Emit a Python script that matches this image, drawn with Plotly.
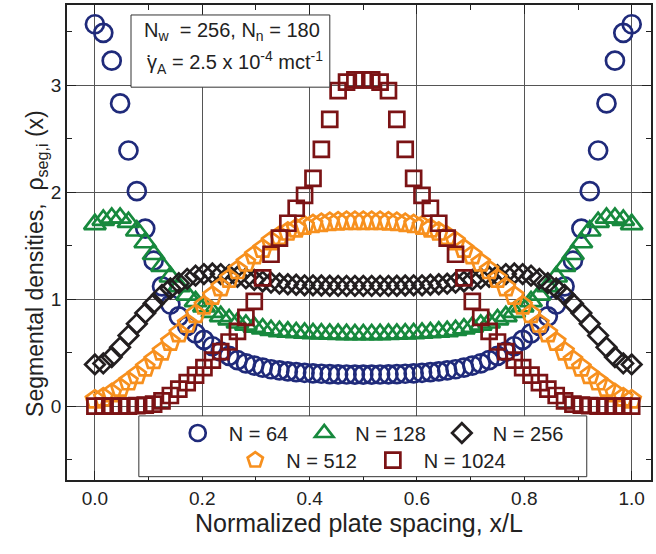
import plotly.graph_objects as go

# ---------------- data ----------------
x_over_L = [0.0, 0.0156, 0.0313, 0.0469, 0.0625, 0.0781, 0.0938, 0.1094, 0.125, 0.1406,
            0.1563, 0.1719, 0.1875, 0.2031, 0.2188, 0.2344, 0.25, 0.2656, 0.2813, 0.2969,
            0.3125, 0.3281, 0.3438, 0.3594, 0.375, 0.3906, 0.4063, 0.4219, 0.4375, 0.4531,
            0.4688, 0.4844, 0.5, 0.5156, 0.5313, 0.5469, 0.5625, 0.5781, 0.5938, 0.6094,
            0.625, 0.6406, 0.6563, 0.6719, 0.6875, 0.7031, 0.7188, 0.7344, 0.75, 0.7656,
            0.7813, 0.7969, 0.8125, 0.8281, 0.8438, 0.8594, 0.875, 0.8906, 0.9063, 0.9219,
            0.9375, 0.9531, 0.9688, 0.9844, 1.0]

rho_N64 = [3.57, 3.49, 3.23, 2.83, 2.39, 2.01, 1.66, 1.36, 1.12, 0.95, 0.84, 0.75, 0.68,
           0.62, 0.56, 0.51, 0.47, 0.43, 0.40, 0.38, 0.36, 0.345, 0.335, 0.325, 0.318,
           0.312, 0.307, 0.303, 0.300, 0.298, 0.296, 0.295, 0.295,
           0.295, 0.296, 0.298, 0.300, 0.303, 0.307, 0.312, 0.318, 0.325, 0.335, 0.345,
           0.36, 0.38, 0.40, 0.43, 0.47, 0.51, 0.56, 0.62, 0.68, 0.75, 0.84, 0.95, 1.12,
           1.36, 1.66, 2.01, 2.39, 2.83, 3.23, 3.49, 3.57]

rho_N128 = [1.70, 1.74, 1.76, 1.76, 1.72, 1.64, 1.53, 1.42, 1.31, 1.21, 1.12, 1.04, 0.98,
            0.93, 0.88, 0.84, 0.81, 0.78, 0.76, 0.74, 0.725, 0.71, 0.70, 0.695, 0.69,
            0.685, 0.68, 0.678, 0.676, 0.674, 0.672, 0.671, 0.670,
            0.671, 0.672, 0.674, 0.676, 0.678, 0.68, 0.685, 0.69, 0.695, 0.70, 0.71,
            0.725, 0.74, 0.76, 0.78, 0.81, 0.84, 0.88, 0.93, 0.98, 1.04, 1.12, 1.21, 1.31,
            1.42, 1.53, 1.64, 1.72, 1.76, 1.76, 1.74, 1.70]

rho_N256 = [0.39, 0.40, 0.46, 0.55, 0.66, 0.77, 0.87, 0.96, 1.04, 1.10, 1.15, 1.19, 1.22,
            1.235, 1.24, 1.235, 1.225, 1.21, 1.195, 1.18, 1.165, 1.155, 1.145, 1.14, 1.135,
            1.13, 1.13, 1.128, 1.126, 1.125, 1.125, 1.125, 1.125,
            1.125, 1.125, 1.125, 1.126, 1.128, 1.13, 1.13, 1.135, 1.14, 1.145, 1.155,
            1.165, 1.18, 1.195, 1.21, 1.225, 1.235, 1.24, 1.235, 1.22, 1.19, 1.15, 1.10,
            1.04, 0.96, 0.87, 0.77, 0.66, 0.55, 0.46, 0.40, 0.39]

rho_N512 = [0.06, 0.08, 0.12, 0.17, 0.23, 0.29, 0.36, 0.43, 0.51, 0.60, 0.68, 0.77, 0.86,
            0.94, 1.03, 1.11, 1.19, 1.27, 1.34, 1.41, 1.47, 1.54, 1.59, 1.63, 1.66, 1.685,
            1.70, 1.71, 1.72, 1.725, 1.73, 1.73, 1.73,
            1.73, 1.73, 1.725, 1.72, 1.71, 1.70, 1.685, 1.66, 1.63, 1.59, 1.54, 1.47, 1.41,
            1.34, 1.27, 1.19, 1.11, 1.03, 0.94, 0.86, 0.77, 0.68, 0.60, 0.51, 0.43, 0.36,
            0.29, 0.23, 0.17, 0.12, 0.08, 0.06]

rho_N1024 = [0.0, 0.0, 0.0, 0.0, 0.0, 0.005, 0.01, 0.02, 0.05, 0.10, 0.16, 0.22, 0.29,
             0.36, 0.43, 0.51, 0.60, 0.70, 0.83, 0.98, 1.20, 1.42, 1.57, 1.71, 1.85, 1.97,
             2.13, 2.40, 2.68, 2.95, 3.03, 3.05, 3.05,
             3.05, 3.03, 2.95, 2.68, 2.40, 2.13, 1.97, 1.85, 1.71, 1.57, 1.42, 1.20, 0.98,
             0.83, 0.70, 0.60, 0.51, 0.43, 0.36, 0.29, 0.22, 0.16, 0.10, 0.05, 0.02, 0.01,
             0.005, 0.0, 0.0, 0.0, 0.0, 0.0]

series_names = ["N = 64", "N = 128", "N = 256", "N = 512", "N = 1024"]
series_values = [rho_N64, rho_N128, rho_N256, rho_N512, rho_N1024]

# ---------------- styles ----------------
FONT = "Liberation Sans, Arial, Helvetica, sans-serif"
styles = [
    dict(symbol="circle-open", size=18, color="#1f2a7a", legend="legend"),
    dict(symbol="triangle-up-open", size=19, color="#17893d", legend="legend"),
    dict(symbol="diamond-open", size=15, color="#231f20", legend="legend"),
    dict(symbol="pentagon-open", size=19, color="#f7901e", legend="legend2"),
    dict(symbol="square-open", size=15, color="#7b1315", legend="legend2"),
]

fig = go.Figure()
for name, vals, st in zip(series_names, series_values, styles):
    fig.add_trace(go.Scatter(
        x=x_over_L, y=vals, mode="markers", name=name, legend=st["legend"],
        marker=dict(symbol=st["symbol"], size=st["size"], color=st["color"],
                    line=dict(width=2.7, color=st["color"])),
    ))

axis_common = dict(
    showline=True, linecolor="#222", linewidth=1.5, mirror="allticks",
    ticks="inside", ticklen=9, tickwidth=1.2, tickcolor="#222",
    showgrid=True, gridcolor="#555", gridwidth=1, zeroline=False,
    tickfont=dict(family=FONT, size=19, color="#222"), automargin=False,
)

fig.update_xaxes(
    range=[-0.052, 1.036], tick0=0, dtick=0.2, tickformat=".1f",
    minor=dict(dtick=0.1, ticks="inside", ticklen=5, tickcolor="#222", showgrid=False),
    title=dict(text="Normalized plate spacing, x/L", standoff=6,
               font=dict(family=FONT, size=25, color="#222")),
    **axis_common,
)
fig.update_yaxes(
    range=[-0.69, 3.75], tick0=0, dtick=1, tickformat="d",
    minor=dict(dtick=0.5, ticks="inside", ticklen=5, tickcolor="#222", showgrid=False),
    **axis_common,
)

# y-axis title (placed as an annotation to match the reference offset)
fig.add_annotation(
    xref="paper", yref="paper", x=0, y=0.455, xanchor="center", yanchor="middle",
    xshift=-30, textangle=-90, showarrow=False,
    text="Segmental densities,\u00a0 \u03c1<sub>seg,i</sub> (x)",
    font=dict(family=FONT, size=23, color="#222"),
)

# parameter box
fig.add_shape(type="rect", xref="paper", yref="paper", x0=0.1096, x1=0.450, y0=0.827, y1=0.979,
              line=dict(color="#333", width=1), fillcolor="white", layer="above")
fig.add_annotation(
    xref="paper", yref="paper", x=0.128, y=0.945, xanchor="left", yanchor="middle",
    showarrow=False, text="N<sub>w</sub>  = 256, N<sub>n</sub> = 180",
    font=dict(family=FONT, size=20, color="#222"),
)
fig.add_annotation(
    xref="paper", yref="paper", x=0.133, y=0.878, xanchor="left", yanchor="middle",
    showarrow=False, text="\u03b3<sub>A</sub> = 2.5 x 10<sup>-4</sup> mct<sup>-1</sup>",
    font=dict(family=FONT, size=20, color="#222"),
)
# the dot of the rate symbol (gamma-dot)
fig.add_annotation(
    xref="paper", yref="paper", x=0.1405, y=0.876, xanchor="center", yanchor="middle",
    showarrow=False, text="\u02d9",
    font=dict(family=FONT, size=22, color="#222"),
)

# legend frame
fig.add_shape(type="rect", xref="paper", yref="paper", x0=0.123, x1=0.890, y0=0.007, y1=0.135,
              line=dict(color="#333", width=1), fillcolor="white", layer="above")

legend_common = dict(
    orientation="h", xanchor="center", yanchor="middle",
    bgcolor="rgba(0,0,0,0)", borderwidth=0, itemwidth=52,
    font=dict(family=FONT, size=20, color="#222"),
    itemclick=False, itemdoubleclick=False,
)

fig.update_layout(
    width=656, height=554,
    margin=dict(l=67, r=5, t=5, b=74),
    paper_bgcolor="white", plot_bgcolor="white",
    showlegend=True,
    legend=dict(x=0.515, y=0.099, **legend_common),
    legend2=dict(x=0.515, y=0.042, **legend_common),
)

fig.write_html("out.html", config={"displayModeBar": False},
               post_script="document.body.style.margin='0';")
